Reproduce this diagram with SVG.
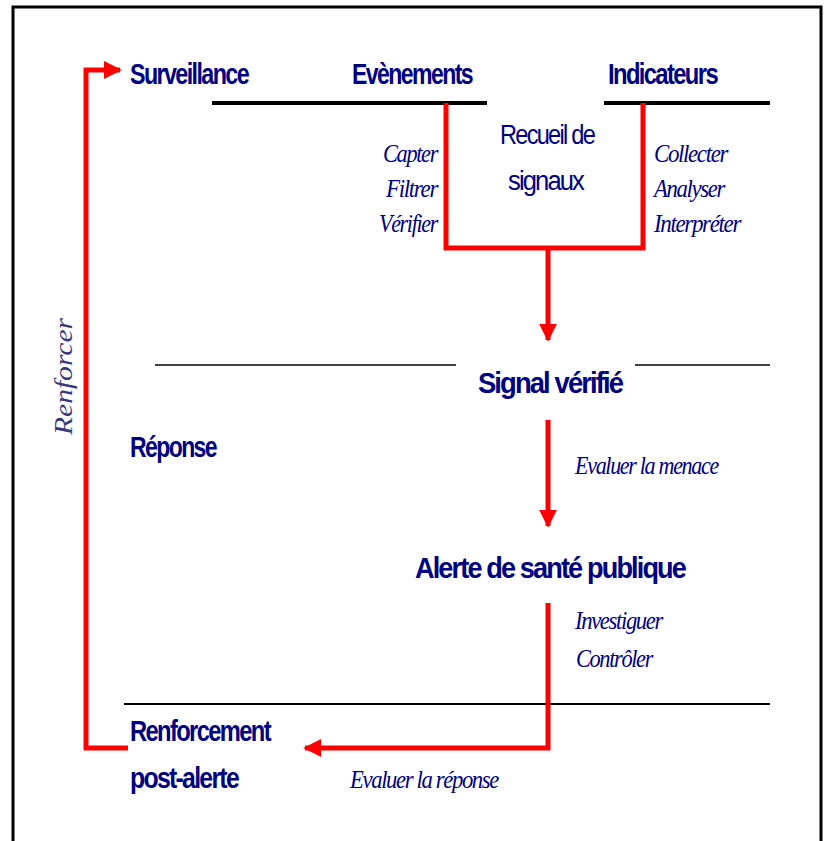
<svg xmlns="http://www.w3.org/2000/svg" width="829" height="841" viewBox="0 0 829 841">
<style>
.h{font-family:"Liberation Sans",Arial,sans-serif;font-weight:bold;font-size:29px;fill:#000080;letter-spacing:-2px}
.s{font-family:"Liberation Sans",Arial,sans-serif;font-size:27px;fill:#000080;letter-spacing:-2px}
.a{font-family:"Liberation Serif","Times New Roman",serif;font-style:italic;font-size:25px;fill:#000080;letter-spacing:-1.5px}
.blk{stroke:#000;fill:none}
.red{stroke:#ff0000;fill:none;stroke-width:5}
</style>
<defs>
<marker id="ah" viewBox="0 0 10 10" refX="9" refY="5" markerWidth="3.6" markerHeight="3.6" orient="auto" markerUnits="strokeWidth">
<path d="M0,0 L10,5 L0,10 z" fill="#ff0000"/>
</marker>
</defs>
<rect x="0" y="0" width="829" height="841" fill="#fff"/>
<rect x="13" y="7" width="808" height="850" fill="none" stroke="#000" stroke-width="3"/>

<g id="lines">
<line class="blk" x1="212" y1="103" x2="487" y2="103" stroke-width="4"/>
<line class="blk" x1="604" y1="103" x2="770" y2="103" stroke-width="4"/>
<line class="blk" x1="155" y1="365" x2="456" y2="365" stroke-width="1.5"/>
<line class="blk" x1="635" y1="365" x2="770" y2="365" stroke-width="1.5"/>
<line class="blk" x1="124" y1="704" x2="770" y2="704" stroke-width="2"/>
</g>

<g id="connectors">
<polyline class="red" points="446,103 446,248 643,248 643,103"/>
<line class="red" x1="548" y1="248" x2="548" y2="340" marker-end="url(#ah)"/>
<line class="red" x1="548" y1="420" x2="548" y2="526" marker-end="url(#ah)"/>
<polyline class="red" points="548,603 548,748 305,748" marker-end="url(#ah)"/>
<polyline class="red" points="128,748 86,748 86,70 120,70" marker-end="url(#ah)"/>
</g>

<g id="surveillance"><text class="h" x="130" y="84" textLength="118" lengthAdjust="spacingAndGlyphs">Surveillance</text></g>
<g id="evenements"><text class="h" x="352" y="84" textLength="120" lengthAdjust="spacingAndGlyphs">Evènements</text></g>
<g id="indicateurs"><text class="h" x="608" y="84" textLength="109" lengthAdjust="spacingAndGlyphs">Indicateurs</text></g>

<g id="recueil">
<text class="s" x="500" y="144" textLength="94" lengthAdjust="spacingAndGlyphs">Recueil de</text>
<text class="s" x="508" y="190" textLength="75" lengthAdjust="spacingAndGlyphs">signaux</text>
</g>

<g id="actions-evenements">
<text class="a" x="437" y="162" text-anchor="end" textLength="54" lengthAdjust="spacingAndGlyphs">Capter</text>
<text class="a" x="437" y="197" text-anchor="end" textLength="51" lengthAdjust="spacingAndGlyphs">Filtrer</text>
<text class="a" x="437" y="232" text-anchor="end" textLength="58" lengthAdjust="spacingAndGlyphs">Vérifier</text>
</g>
<g id="actions-indicateurs">
<text class="a" x="654" y="162" textLength="73" lengthAdjust="spacingAndGlyphs">Collecter</text>
<text class="a" x="654" y="197" textLength="70" lengthAdjust="spacingAndGlyphs">Analyser</text>
<text class="a" x="654" y="232" textLength="86" lengthAdjust="spacingAndGlyphs">Interpréter</text>
</g>

<g id="signal"><text class="h" x="478" y="393" textLength="144" lengthAdjust="spacingAndGlyphs">Signal vérifié</text></g>
<g id="reponse"><text class="h" x="130" y="457" textLength="86" lengthAdjust="spacingAndGlyphs">Réponse</text></g>
<g id="evaluer-menace"><text class="a" x="575" y="474" textLength="143" lengthAdjust="spacingAndGlyphs">Evaluer la menace</text></g>
<g id="alerte"><text class="h" x="415" y="578" textLength="270" lengthAdjust="spacingAndGlyphs">Alerte de santé publique</text></g>
<g id="actions-alerte">
<text class="a" x="575" y="629" textLength="87" lengthAdjust="spacingAndGlyphs">Investiguer</text>
<text class="a" x="576" y="667" textLength="76" lengthAdjust="spacingAndGlyphs">Contrôler</text>
</g>
<g id="renforcement">
<text class="h" x="130" y="741" textLength="140" lengthAdjust="spacingAndGlyphs">Renforcement</text>
<text class="h" x="130" y="788" textLength="108" lengthAdjust="spacingAndGlyphs">post-alerte</text>
</g>
<g id="evaluer-reponse"><text class="a" x="350" y="788" textLength="148" lengthAdjust="spacingAndGlyphs">Evaluer la réponse</text></g>
<g id="renforcer"><text class="a" x="0" y="0" transform="translate(72,435) rotate(-90)" textLength="117" lengthAdjust="spacingAndGlyphs" style="fill:#3a3a7a;letter-spacing:0">Renforcer</text></g>
</svg>
